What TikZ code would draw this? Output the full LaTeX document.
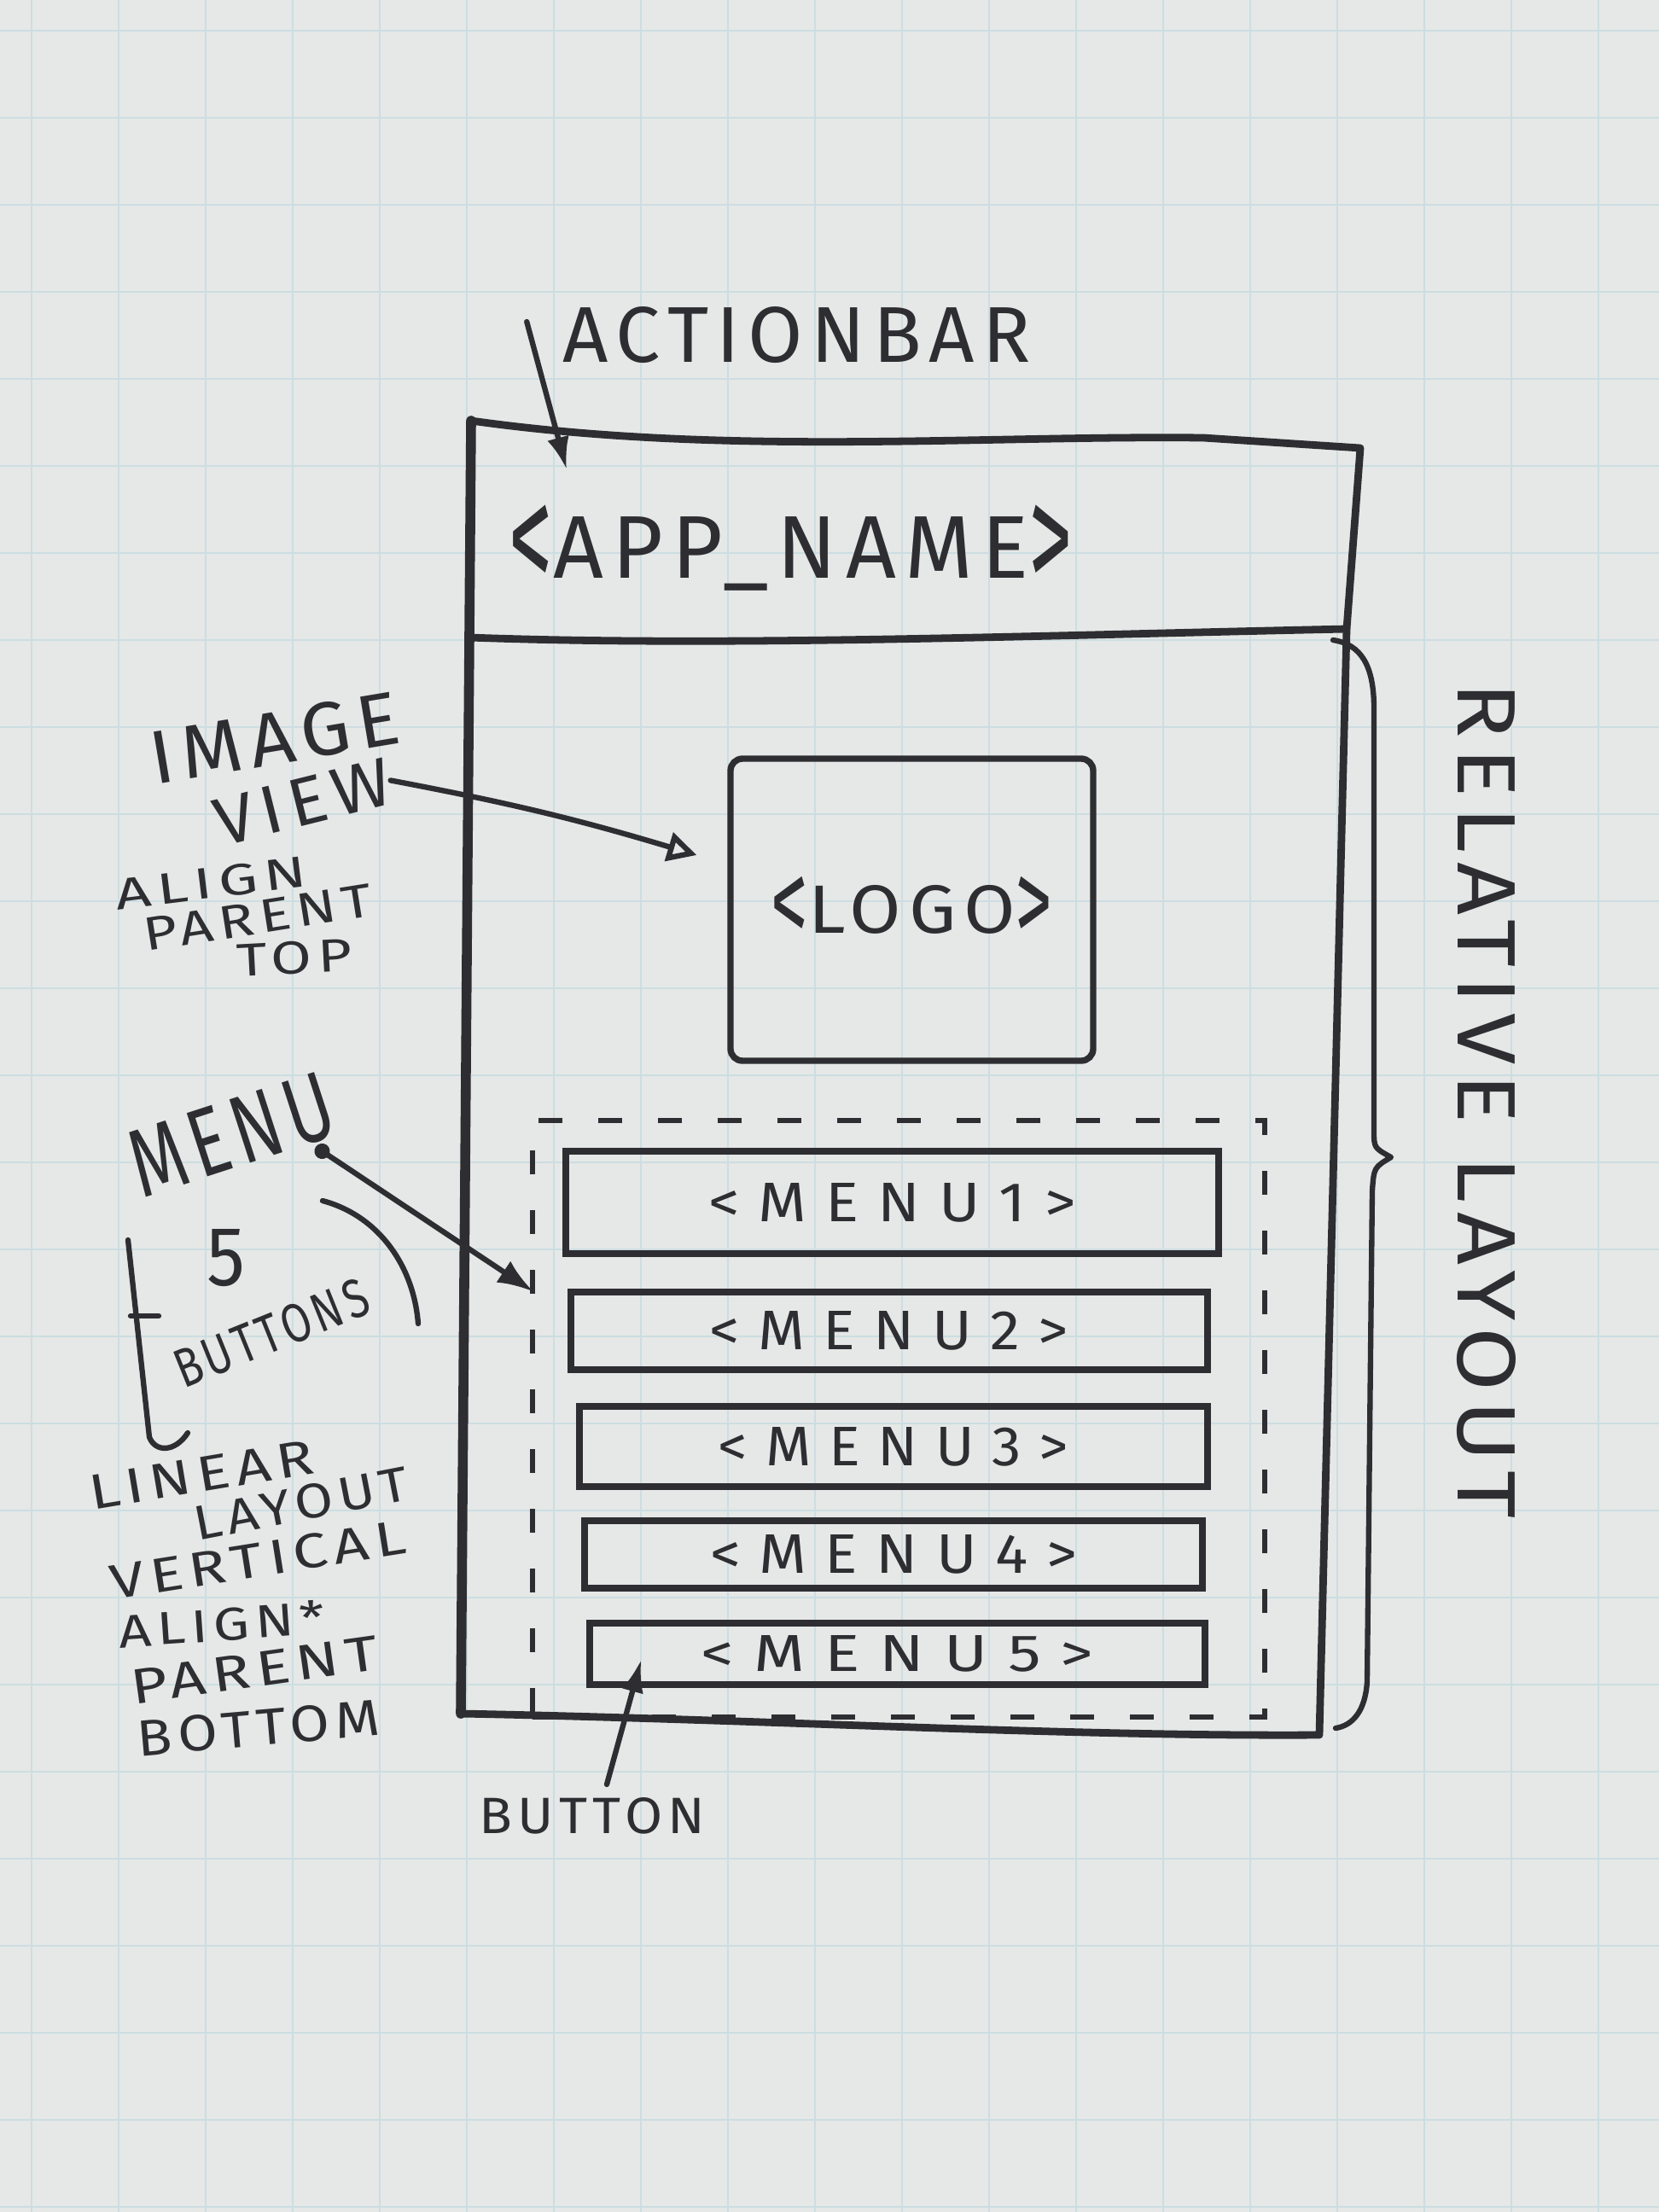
\documentclass[tikz,border=0pt]{standalone}
\usepackage{fontspec}
\setmainfont{Fira Sans}[LetterSpace=10]
\newfontfamily\spaced{Fira Sans}[LetterSpace=30]
\usetikzlibrary{arrows.meta,calc}
\definecolor{paper}{RGB}{229,232,230}
\definecolor{gridc}{RGB}{204,221,226}
\definecolor{ink}{RGB}{46,46,50}
\newcommand{\hw}[3]{\resizebox{#1cm}{#2cm}{#3}}
\newcommand{\bigbr}[1]{\raisebox{-0.14em}{\scalebox{1}[1.75]{#1}}}
\tikzset{
  lbl/.style={inner sep=0pt, text=ink},
  pen/.style={draw=ink, line width=1.8pt, line cap=round, line join=round},
  frame/.style={draw=ink, line width=2.5pt, line cap=round, line join=round},
  box/.style={draw=ink, line width=2.1pt, inner sep=0pt, text=ink},
  lbox/.style={draw=ink, line width=1.7pt, dash pattern=on 0.28cm off 0.42cm, inner sep=0pt},
  arr/.style={pen, -{Latex[length=0.38cm,width=0.26cm]}},
  openarr/.style={pen, -{Triangle[open,length=0.34cm,width=0.34cm,line width=1.8pt]}},
  dotarr/.style={pen, {Circle[length=0.18cm]}-{Latex[length=0.42cm,width=0.3cm]}}
}
\begin{document}
\begin{tikzpicture}
\useasboundingbox (0,0) rectangle (19.44,-25.92);
\fill[paper] (0,0) rectangle (19.44,-25.92);
\foreach \i in {0,...,18} \draw[gridc, line width=0.8pt] ({0.37+1.02*\i},0) -- ({0.37+1.02*\i},-25.92);
\foreach \j in {0,...,25} \draw[gridc, line width=0.8pt] (0,{-0.36-1.02*\j}) -- (19.44,{-0.36-1.02*\j});

% phone frame
\coordinate (ftl) at (5.52,-4.93);
\coordinate (ftr) at (15.94,-5.25);
\coordinate (dvr) at (15.78,-7.37);
\coordinate (fbr) at (15.46,-20.33);
\coordinate (fbl) at (5.40,-20.08);
\coordinate (dvl) at (5.50,-7.47);
\draw[frame] (ftl) .. controls (8.5,-5.35) and (11.5,-5.1) .. (14.1,-5.13) -- (ftr) -- (dvr) -- (fbr)
  .. controls (12.5,-20.35) and (9.0,-20.15) .. (fbl);
\draw[frame, line width=3.3pt] (ftl) -- (fbl);
\draw[frame] (dvl) .. controls (8.5,-7.58) and (12.0,-7.45) .. (dvr);

% action bar
\node[lbl] (actionbar) at (9.34,-3.93) {\hw{5.48}{0.65}{ACTIONBAR}};
\node[lbl] (appname) at (9.27,-6.42) {\hw{6.60}{0.86}{\bigbr{<}APP\_NAME\bigbr{>}}};
\coordinate (abstart) at ([xshift=-0.42cm,yshift=0.16cm]actionbar.west);
\coordinate (abtip) at (6.64,-5.50);
\draw[arr] (abstart) -- (abtip);

% logo
\node[box, rounded corners=4pt, minimum width=4.25cm, minimum height=3.54cm] (logo) at (10.685,-10.66) {\hw{3.30}{0.66}{\bigbr{<}LOGO\bigbr{>}}};
\node[lbl, rotate=9.5] (image) at (3.22,-8.65) {\hw{2.95}{0.62}{IMAGE}};
\node[lbl, rotate=14] (view) at (3.55,-9.40) {\hw{2.10}{0.55}{VIEW}};
\node[lbl, rotate=7] (align1) at (2.47,-10.35) {\hw{2.25}{0.36}{ALIGN}};
\node[lbl, rotate=9] (parent1) at (3.02,-10.75) {\hw{2.70}{0.38}{PARENT}};
\node[lbl, rotate=3] (top1) at (3.45,-11.22) {\hw{1.35}{0.38}{TOP}};
\draw[openarr] (view.east) to[bend left=3] ([xshift=-0.36cm,yshift=0.64cm]logo.west);

% linear layout with menu buttons
\node[lbox, minimum width=8.58cm, minimum height=6.99cm] (lin) at (10.53,-16.625) {};
\node[box, minimum width=7.65cm, minimum height=1.20cm] (menu1) at (10.455,-14.09) {\hw{4.30}{0.45}{\spaced <MENU1>}};
\node[box, minimum width=7.46cm, minimum height=0.91cm] (menu2) at (10.42,-15.595) {\hw{4.20}{0.45}{\spaced <MENU2>}};
\node[box, minimum width=7.36cm, minimum height=0.94cm] (menu3) at (10.47,-16.95) {\hw{4.10}{0.45}{\spaced <MENU3>}};
\node[box, minimum width=7.24cm, minimum height=0.79cm] (menu4) at (10.47,-18.215) {\hw{4.30}{0.45}{\spaced <MENU4>}};
\node[box, minimum width=7.21cm, minimum height=0.72cm] (menu5) at (10.515,-19.38) {\hw{4.60}{0.42}{\spaced <MENU5>}};

% menu label
\node[lbl, rotate=18] (menu) at (2.71,-13.30) {\hw{2.45}{0.78}{MENU}};
\node[lbl] (five) at (2.65,-14.74) {\hw{0.45}{0.66}{5}};
\node[lbl, rotate=22] (buttons) at (3.18,-15.62) {\hw{2.40}{0.45}{BUTTONS}};
\coordinate (menudot) at (3.70,-13.44);
\draw[dotarr] (menudot) -- ([xshift=0.04cm,yshift=1.49cm]lin.west);
\draw[pen] (1.50,-14.53) -- (1.75,-16.84) .. controls (1.82,-17.02) and (2.05,-17.02) .. (2.20,-16.79);
\draw[pen] (1.53,-15.42) -- (1.86,-15.42);
\draw[pen] (3.78,-14.07) .. controls (4.45,-14.25) and (4.85,-14.85) .. (4.90,-15.51);

\node[lbl, rotate=9.5] (linear) at (2.36,-17.28) {\hw{2.65}{0.40}{LINEAR}};
\node[lbl, rotate=11] (layout) at (3.53,-17.62) {\hw{2.55}{0.40}{LAYOUT}};
\node[lbl, rotate=9] (vertical) at (3.02,-18.28) {\hw{3.50}{0.40}{VERTICAL}};
\node[lbl, rotate=4] (align2) at (2.60,-19.03) {\hw{2.42}{0.40}{ALIGN*}};
\node[lbl, rotate=8] (parent2) at (2.98,-19.57) {\hw{2.92}{0.40}{PARENT}};
\node[lbl, rotate=5] (bottom) at (3.03,-20.25) {\hw{2.85}{0.42}{BOTTOM}};

% button label
\node[lbl] (button) at (6.94,-21.28) {\hw{2.65}{0.42}{BUTTON}};
\draw[arr] ([xshift=0.17cm,yshift=0.15cm]button.north) -- ([xshift=0.64cm,yshift=-0.07cm]menu5.west);

% relative layout brace
\draw[pen] (15.62,-7.50) .. controls (15.95,-7.55) and (16.10,-7.8) .. (16.10,-8.3) -- (16.10,-13.25)
  .. controls (16.10,-13.45) .. (16.30,-13.56) .. controls (16.10,-13.68) .. (16.08,-13.95)
  -- (16.02,-19.7) .. controls (16.0,-20.05) and (15.85,-20.22) .. (15.65,-20.25);
\node[lbl, rotate=-90] (relative) at (17.42,-12.90) {\hw{9.80}{0.68}{RELATIVE LAYOUT}};
\end{tikzpicture}
\end{document}
